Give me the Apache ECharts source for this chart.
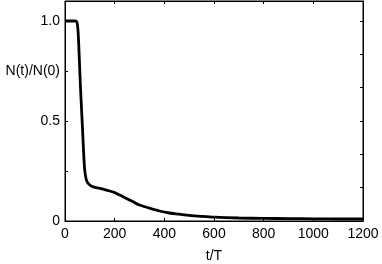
<!DOCTYPE html>
<html>
<head>
<meta charset="utf-8">
<script src="https://cdn.jsdelivr.net/npm/echarts@6/dist/echarts.min.js"></script>
<style>
  html, body { margin: 0; padding: 0; background: #fff; }
  #chart { width: 382px; height: 264px; }
</style>
</head>
<body>
<div id="chart"></div>
<script>
// decay of N(t)/N(0) against t/T
var tValues = [0, 20, 40, 48, 53, 58, 63, 69, 74, 79, 85, 92, 100, 110, 120, 140, 160, 180, 200, 220, 240, 260, 280, 300, 340, 380, 420, 460, 500, 550, 600, 700, 800, 900, 1000, 1100, 1200];
var nValues = [1.0, 1.0, 1.0, 0.995, 0.94, 0.8, 0.65, 0.5, 0.37, 0.26, 0.21, 0.19, 0.18, 0.172, 0.168, 0.163, 0.157, 0.15, 0.142, 0.13, 0.118, 0.105, 0.092, 0.08, 0.064, 0.05, 0.04, 0.034, 0.028, 0.023, 0.019, 0.015, 0.013, 0.012, 0.011, 0.01, 0.01];
var yLabels = { '0': '0', '0.5': '0.5', '0.75': 'N(t)/N(0)', '1': '1.0' };

var points = [];
for (var i = 0; i < tValues.length; i++) {
  points.push([tValues[i], nValues[i]]);
}

var font = 'Liberation Sans, Arial, sans-serif';
function ticks() {
  return { show: true, inside: true, length: 3, lineStyle: { color: '#000', width: 1 } };
}

var chart = echarts.init(document.getElementById('chart'));
var option = {
  backgroundColor: '#fff',
  animation: false,
  grid: {
    left: 65, right: 19, top: 1, bottom: 43,
    outerBoundsMode: 'none',
    containLabel: false,
    show: true, borderColor: '#000', borderWidth: 1
  },
  xAxis: [{
    type: 'value',
    position: 'bottom',
    min: 0, max: 1200, interval: 200,
    name: 't/T',
    nameLocation: 'middle',
    nameGap: 28,
    nameTextStyle: { color: '#000', fontSize: 14, fontFamily: font },
    axisLine: { show: true, onZero: false, lineStyle: { color: '#000' } },
    axisTick: ticks(),
    axisLabel: {
      color: '#000', fontSize: 14, fontFamily: font, margin: 6,
      formatter: function (v) { return String(v); }
    },
    splitLine: { show: false }
  }, {
    type: 'value',
    position: 'top',
    min: 0, max: 1200, interval: 200,
    axisLine: { show: true, onZero: false, lineStyle: { color: '#000' } },
    axisTick: ticks(),
    axisLabel: { show: false },
    splitLine: { show: false }
  }],
  yAxis: [{
    type: 'value',
    position: 'left',
    min: 0, max: 1.1, interval: 0.25,
    axisLine: { show: true, onZero: false, lineStyle: { color: '#000' } },
    axisTick: ticks(),
    axisLabel: {
      color: '#000', fontSize: 14, fontFamily: font, margin: 5,
      showMaxLabel: false,
      formatter: function (v) {
        var k = String(Math.round(v * 100) / 100);
        return yLabels[k] || '';
      }
    },
    splitLine: { show: false }
  }, {
    type: 'value',
    position: 'right',
    min: 0, max: 1.1, interval: 1 / 6,
    axisLine: { show: true, onZero: false, lineStyle: { color: '#000' } },
    axisTick: ticks(),
    axisLabel: { show: false },
    splitLine: { show: false }
  }],
  series: [{
    type: 'line',
    data: points,
    smooth: 0.3,
    symbol: 'none',
    lineStyle: { color: '#000', width: 2.8 }
  }]
};
chart.setOption(option);
</script>
</body>
</html>
